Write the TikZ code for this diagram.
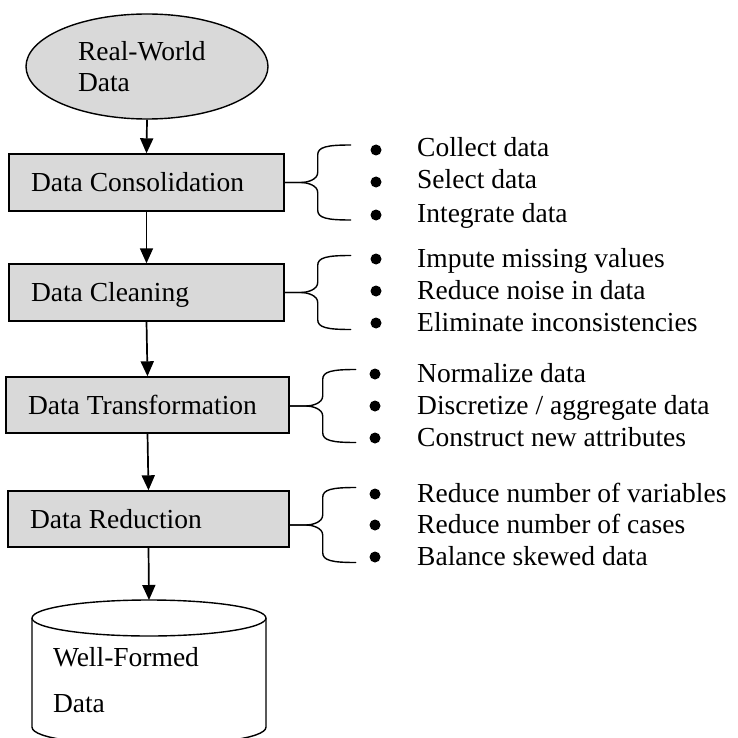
\documentclass[tikz,border=0pt]{standalone}
\usepackage{fontspec}
\setmainfont{Liberation Serif}
\usetikzlibrary{arrows.meta,shapes.geometric}
\definecolor{boxgray}{HTML}{D9D9D9}

% Curly brace opening to the right, tip at #1, half height #2
\newcommand\stagebrace[2]{%
  \draw[bracestyle] (#1) -- ++(16,0) .. controls +(7,0) and +(0,7) .. ++(17,-10)
        -- ++(0,{-(#2-20)}) .. controls +(0,-8) and +(-24,0) .. ++(33,-10);
  \draw[bracestyle] (#1) -- ++(16,0) .. controls +(7,0) and +(0,-7) .. ++(17,10)
        -- ++(0,{#2-20}) .. controls +(0,8) and +(-24,0) .. ++(33,10);
}
% Left-aligned label of fixed width inside a stage box
\newcommand\stagelabel[2]{\makebox[#1][l]{#2}}

\tikzset{
  stage/.style={draw=black, line width=1.4pt, fill=boxgray, inner xsep=22pt,
    inner ysep=0pt, text height=18pt, text depth=0pt},
  flow/.style={-{Triangle[length=15pt,width=13pt]}, line width=1.7pt},
  bracestyle/.style={line width=1.4pt, line cap=round},
  item/.style={anchor=base west, inner sep=0pt},
  bulletdot/.style={circle, fill=black, minimum size=11pt, inner sep=0pt},
}

\begin{document}
\begin{tikzpicture}[x=1pt, y=-1pt, font=\fontsize{27.5}{31}\selectfont]
\useasboundingbox (0,0) rectangle (737,738);
\clip (0,0) rectangle (737,738);

% source
\node[ellipse, draw, line width=1.4pt, fill=boxgray, minimum width=242pt,
      minimum height=105pt, inner sep=0pt, text width=138pt, align=left]
      (src) at (147,66.5) {Real-World\\Data};

% processing stages
\node[stage, minimum height=57pt] (b1) at (146.5,182.5) {\stagelabel{231pt}{Data Consolidation}};
\node[stage, minimum height=57pt] (b2) at (146.5,292.5) {\stagelabel{231pt}{Data Cleaning}};
\node[stage, minimum height=56pt] (b3) at (147.5,405) {\stagelabel{239pt}{Data Transformation}};
\node[stage, minimum height=56pt] (b4) at (148.5,519) {\stagelabel{237pt}{Data Reduction}};

% result database
\draw[line width=1.4pt, fill=white] (32,618) -- (32,727)
      .. controls (32,751) and (266,751) .. (266,727) -- (266,618);
\draw[line width=1.4pt] (149,618) ellipse [x radius=117pt, y radius=18pt];
\coordinate (dbtop) at (149,600);
\node[align=left, text width=150pt, inner sep=0pt, font=\fontsize{27.5}{46}\selectfont]
      (dst) at (128,680.5) {Well-Formed\\Data};

% flow arrows
\draw[flow] (src.south) -- (b1.north);
\draw[flow] (b1.south) -- (b2.north);
\draw[flow] (b2.south) -- (b3.north);
\draw[flow] (b3.south) -- (b4.north);
\draw[flow] (b4.south) -- (dbtop);

% braces
\stagebrace{b1.east}{37.5}
\stagebrace{b2.east}{37}
\stagebrace{[yshift=-1pt]b3.east}{36.5}
\stagebrace{[yshift=-6pt]b4.east}{37.5}

% task lists
\node[bulletdot] (d11) at (376,150) {};
\node[bulletdot] (d12) at (376,182) {};
\node[bulletdot] (d13) at (376,215) {};
\node[item] (t11) at (417,157) {Collect data};
\node[item] (t12) at (417,189) {Select data};
\node[item] (t13) at (417,222) {Integrate data};

\node[bulletdot] (d21) at (376,259) {};
\node[bulletdot] (d22) at (376,291) {};
\node[bulletdot] (d23) at (376,323) {};
\node[item] (t21) at (417,267) {Impute missing values};
\node[item] (t22) at (417,299) {Reduce noise in data};
\node[item] (t23) at (417,331) {Eliminate inconsistencies};

\node[bulletdot] (d31) at (375,374) {};
\node[bulletdot] (d32) at (375,406) {};
\node[bulletdot] (d33) at (375,438) {};
\node[item] (t31) at (417,382) {Normalize data};
\node[item] (t32) at (417,414) {Discretize / aggregate data};
\node[item] (t33) at (417,446) {Construct new attributes};

\node[bulletdot] (d41) at (375,494) {};
\node[bulletdot] (d42) at (375,525) {};
\node[bulletdot] (d43) at (375,557) {};
\node[item] (t41) at (417,502) {Reduce number of variables};
\node[item] (t42) at (417,533) {Reduce number of cases};
\node[item] (t43) at (417,565) {Balance skewed data};
\end{tikzpicture}
\end{document}
